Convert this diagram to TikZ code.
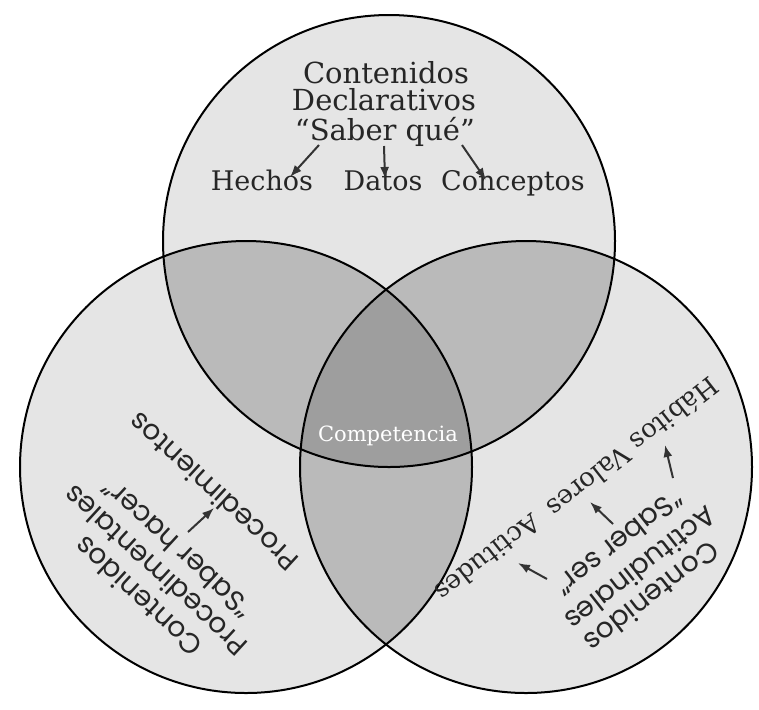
\documentclass[tikz,border=0pt]{standalone}
\usepackage{fontspec}
\setmainfont{DejaVu Serif}
\newfontfamily\geofont{Poppins}
\usetikzlibrary{arrows.meta}

\begin{document}
\begin{tikzpicture}[x=0.5pt,y=-0.5pt]
\useasboundingbox (0,0) rectangle (759,709);
%%%%%%%%%%%%%%%%%%%%%%%%%%%%%%%%%%%%%%%%%%%%%%%%%%%%%%%%%%%%%%%%%%%%%%%%
%estilos
\tikzstyle{titulo}=[font=\fontsize{14.5}{16}\selectfont,text=black!85,inner sep=0pt]
\tikzstyle{texto}=[font=\fontsize{13.5}{15}\selectfont,text=black!85,inner sep=0pt]
\tikzstyle{valor}=[font=\fontsize{13}{15}\selectfont,text=black!85,inner sep=0pt]
\tikzstyle{rotulo}=[font=\geofont\fontsize{14}{16}\selectfont,text=black!85,inner sep=0pt]
\tikzstyle{flecha}=[->,>={Latex[length=6pt,width=4.5pt]},line width=1pt,draw=black!80]
\def\radio{113pt}

%circulos
\coordinate (cdecl) at (389,241);
\coordinate (cproc) at (246,467);
\coordinate (cacti) at (526,467);

\fill[black!10] (cdecl) circle (\radio);
\fill[black!10] (cproc) circle (\radio);
\fill[black!10] (cacti) circle (\radio);
\begin{scope}
\clip (cdecl) circle (\radio);
\fill[black!27] (cproc) circle (\radio);
\fill[black!27] (cacti) circle (\radio);
\end{scope}
\begin{scope}
\clip (cproc) circle (\radio);
\fill[black!27] (cacti) circle (\radio);
\end{scope}
\begin{scope}
\clip (cdecl) circle (\radio);
\clip (cproc) circle (\radio);
\fill[black!38] (cacti) circle (\radio);
\end{scope}
\draw[line width=1pt] (cdecl) circle (\radio);
\draw[line width=1pt] (cproc) circle (\radio);
\draw[line width=1pt] (cacti) circle (\radio);

%declarativos
\node[titulo,anchor=base] (cont1) at (386,83) {Contenidos};
\node[titulo,anchor=base] (decl) at (384,110) {Declarativos};
\node[titulo,anchor=base] (saberque) at (385,140) {“Saber qué”};
\node[texto,anchor=base] (hechos) at (262,190) {Hechos};
\node[texto,anchor=base] (datos) at (383,190) {Datos};
\node[texto,anchor=base] (conceptos) at (513,190) {Conceptos};

\coordinate (d1) at (319,145);
\coordinate (d2) at (384,146);
\coordinate (d3) at (462,145);
\coordinate (e1) at (290,177);
\coordinate (e2) at (385,179);
\coordinate (e3) at (486,180);
\draw[flecha] (d1) -- (e1);
\draw[flecha] (d2) -- (e2);
\draw[flecha] (d3) -- (e3);

%procedimentales
\node[rotulo,rotate=137.5] (cont2) at (138,597) {Contenidos};
\node[rotulo,rotate=137.5] (proc) at (155,571) {Procedimentales};
\node[rotulo,rotate=137.5] (saberhacer) at (177,549) {“Saber hacer”};
\node[rotulo,rotate=137.5] (procs) at (213,492) {Procedimientos};

\coordinate (p1) at (188,532);
\coordinate (q1) at (214,508);
\draw[flecha] (p1) -- (q1);

%actitudinales
\node[rotulo,rotate=218] (cont3) at (652,597) {Contenidos};
\node[rotulo,rotate=218] (acti) at (641,569) {Actitudinales};
\node[rotulo,rotate=218] (saberser) at (619,543) {“Saber ser”};
\node[valor,rotate=218] (actitudes) at (488,558) {Actitudes};
\node[valor,rotate=218] (valores) at (589,482) {Valores};
\node[valor,rotate=218] (habitos) at (675,415) {Hábitos};

\coordinate (a1) at (547,579);
\coordinate (a2) at (613,524);
\coordinate (a3) at (673,478);
\coordinate (b1) at (518,563);
\coordinate (b2) at (590,502);
\coordinate (b3) at (665,445);
\draw[flecha] (a1) -- (b1);
\draw[flecha] (a2) -- (b2);
\draw[flecha] (a3) -- (b3);

%centro
\node[font=\fontsize{10.5}{12}\selectfont,text=white,inner sep=0pt] (comp) at (388,436) {Competencia};

\end{tikzpicture}
\end{document}
